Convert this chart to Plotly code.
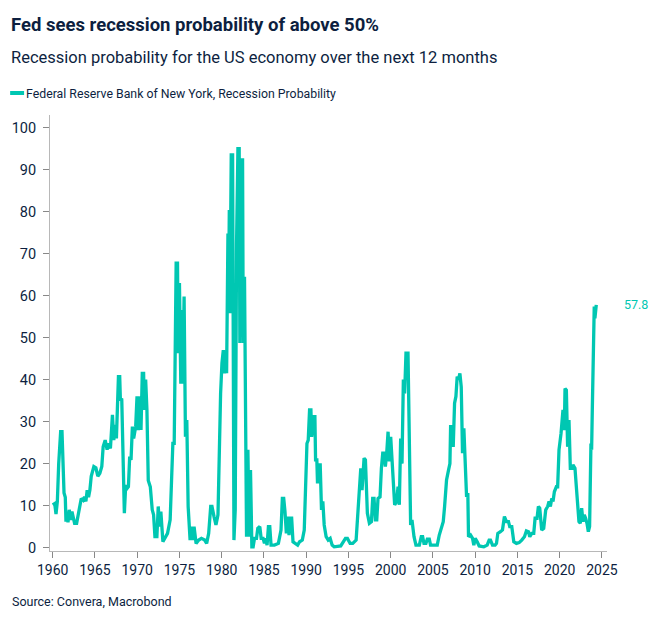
import plotly.graph_objects as go

# ---- Data ----
years = [
    1960.00, 1960.24, 1960.39, 1960.55, 1960.71, 1960.94, 1961.10, 1961.34, 1961.49, 1961.57,
    1961.73, 1961.81, 1961.96, 1962.12, 1962.28, 1962.44, 1962.59, 1962.83, 1963.14, 1963.38,
    1963.61, 1963.77, 1963.93, 1964.08, 1964.24, 1964.40, 1964.56, 1964.87, 1965.11, 1965.34,
    1965.58, 1965.81, 1965.97, 1966.21, 1966.44, 1966.60, 1966.83, 1967.07, 1967.23, 1967.38,
    1967.54, 1967.78, 1967.93, 1968.01, 1968.17, 1968.33, 1968.48, 1968.64, 1968.80, 1968.96,
    1969.11, 1969.27, 1969.43, 1969.58, 1969.82, 1969.98, 1970.13, 1970.37, 1970.45, 1970.60,
    1970.76, 1970.84, 1971.00, 1971.15, 1971.31, 1971.55, 1971.78, 1971.94, 1972.10, 1972.33,
    1972.49, 1972.65, 1972.80, 1973.04, 1973.28, 1973.59, 1973.90, 1974.06, 1974.22, 1974.38,
    1974.45, 1974.61, 1974.77, 1974.85, 1975.00, 1975.16, 1975.24, 1975.40, 1975.55, 1975.71,
    1975.87, 1976.03, 1976.26, 1976.42, 1976.57, 1976.73, 1976.97, 1977.28, 1977.60, 1977.99,
    1978.22, 1978.46, 1978.70, 1978.85, 1979.09, 1979.32, 1979.56, 1979.72, 1979.87, 1980.03,
    1980.19, 1980.35, 1980.50, 1980.58, 1980.74, 1980.82, 1980.90, 1980.97, 1981.13, 1981.29,
    1981.45, 1981.60, 1981.76, 1981.92, 1982.07, 1982.15, 1982.31, 1982.47, 1982.55, 1982.70,
    1982.94, 1983.10, 1983.25, 1983.41, 1983.57, 1983.72, 1983.88, 1984.12, 1984.27, 1984.51,
    1984.67, 1984.90, 1985.06, 1985.22, 1985.37, 1985.53, 1985.69, 1985.84, 1986.24, 1986.71,
    1987.02, 1987.18, 1987.34, 1987.49, 1987.65, 1987.81, 1987.97, 1988.12, 1988.28, 1988.44,
    1988.75, 1988.99, 1989.22, 1989.54, 1989.77, 1989.93, 1990.09, 1990.24, 1990.40, 1990.56,
    1990.64, 1990.79, 1990.87, 1991.03, 1991.11, 1991.26, 1991.34, 1991.50, 1991.66, 1991.81,
    1991.97, 1992.13, 1992.36, 1992.60, 1992.84, 1993.07, 1993.31, 1994.09, 1994.25, 1994.65,
    1994.88, 1995.20, 1995.51, 1995.91, 1996.14, 1996.30, 1996.46, 1996.61, 1996.85, 1997.01,
    1997.24, 1997.48, 1997.72, 1997.87, 1998.03, 1998.19, 1998.35, 1998.50, 1998.74, 1998.90,
    1999.06, 1999.21, 1999.37, 1999.53, 1999.69, 1999.84, 2000.00, 2000.16, 2000.31, 2000.47,
    2000.71, 2000.87, 2001.02, 2001.18, 2001.34, 2001.50, 2001.65, 2001.81, 2002.05, 2002.20,
    2002.36, 2002.52, 2002.76, 2002.99, 2003.39, 2003.62, 2003.78, 2003.94, 2004.17, 2004.33,
    2004.57, 2004.72, 2005.12, 2005.51, 2005.75, 2005.98, 2006.22, 2006.38, 2006.61, 2006.85,
    2007.01, 2007.09, 2007.24, 2007.40, 2007.56, 2007.72, 2007.87, 2008.03, 2008.19, 2008.35,
    2008.50, 2008.66, 2008.82, 2008.98, 2009.13, 2009.21, 2009.45, 2009.69, 2009.84, 2010.00,
    2010.24, 2010.47, 2011.02, 2011.42, 2011.65, 2011.81, 2012.05, 2012.36, 2012.52, 2012.68,
    2012.99, 2013.23, 2013.46, 2013.70, 2013.94, 2014.09, 2014.33, 2014.57, 2014.88, 2015.20,
    2015.51, 2015.83, 2016.06, 2016.30, 2016.46, 2016.69, 2016.93, 2017.09, 2017.32, 2017.48,
    2017.64, 2017.87, 2018.11, 2018.35, 2018.58, 2018.74, 2018.90, 2019.06, 2019.21, 2019.37,
    2019.61, 2019.76, 2019.92, 2020.16, 2020.39, 2020.55, 2020.63, 2020.79, 2020.94, 2021.10,
    2021.26, 2021.50, 2021.57, 2021.81, 2021.97, 2022.13, 2022.28, 2022.44, 2022.60, 2022.76,
    2022.91, 2023.07, 2023.23, 2023.39, 2023.54, 2023.70, 2023.78, 2023.86, 2023.94, 2024.02,
    2024.09, 2024.17, 2024.25, 2024.33,
]

probability = [
    10.2, 10.5, 8.0, 11.0, 20.0, 27.6, 27.6, 13.0, 12.0, 6.2,
    8.6, 6.0, 9.0, 6.6, 8.6, 7.0, 5.8, 5.8, 9.0, 11.7,
    11.3, 12.1, 11.0, 13.7, 12.0, 13.7, 17.0, 19.3, 19.0, 17.0,
    17.7, 19.3, 24.0, 25.6, 23.3, 24.8, 23.6, 31.6, 25.6, 29.2,
    26.0, 40.7, 40.7, 35.2, 35.5, 24.8, 8.2, 14.9, 14.1, 14.5,
    21.7, 20.9, 28.8, 26.0, 28.8, 36.0, 28.0, 36.0, 28.0, 41.5,
    41.5, 32.8, 40.0, 32.8, 16.0, 14.5, 9.0, 7.8, 2.6, 2.6,
    9.8, 5.0, 8.6, 1.4, 2.2, 3.4, 6.6, 13.7, 24.8, 24.8,
    46.3, 67.7, 67.7, 46.3, 63.0, 39.0, 56.6, 39.0, 59.8, 26.4,
    30.4, 9.8, 1.8, 5.0, 1.8, 5.0, 1.0, 1.8, 2.2, 1.8,
    1.0, 3.4, 9.8, 9.8, 7.4, 5.4, 7.8, 23.3, 36.7, 43.9,
    47.0, 41.5, 47.0, 41.5, 74.8, 59.8, 80.4, 55.8, 93.5, 93.5,
    1.8, 9.0, 72.5, 95.0, 95.0, 48.7, 92.3, 92.3, 48.7, 64.5,
    2.6, 23.3, 2.6, 18.5, 0.2, 0.2, 2.2, 2.2, 4.6, 5.0,
    2.2, 2.2, 1.0, 2.2, 0.6, 5.0, 5.0, 0.6, 0.6, 1.0,
    4.2, 11.7, 11.7, 8.6, 3.4, 7.4, 3.0, 7.0, 7.0, 1.4,
    1.0, 0.6, 1.4, 1.8, 4.2, 13.0, 24.8, 25.6, 32.8, 32.8,
    26.4, 28.8, 31.2, 31.2, 20.9, 20.9, 15.3, 19.7, 19.7, 9.0,
    11.0, 5.4, 2.6, 1.8, 2.2, 0.6, 0.2, 0.4, 1.0, 2.2,
    2.2, 1.0, 1.0, 1.8, 9.0, 13.7, 18.9, 13.7, 21.3, 20.9,
    8.2, 5.8, 6.2, 11.7, 11.7, 6.6, 6.6, 11.7, 12.1, 18.9,
    22.5, 22.5, 19.3, 22.5, 27.6, 20.5, 26.4, 20.9, 15.3, 10.2,
    11.0, 14.5, 10.2, 26.0, 20.0, 40.0, 36.7, 46.3, 46.3, 24.8,
    5.4, 6.6, 2.6, 0.6, 0.6, 2.6, 2.6, 1.0, 1.0, 2.0,
    2.0, 0.6, 0.6, 0.6, 3.0, 4.6, 6.2, 9.8, 16.1, 18.5,
    20.0, 28.8, 28.8, 24.0, 34.4, 36.0, 40.7, 40.0, 41.5, 38.3,
    22.5, 28.4, 18.9, 12.1, 13.0, 2.6, 3.0, 2.2, 0.6, 2.2,
    1.4, 0.4, 0.2, 0.6, 1.8, 1.8, 0.6, 0.6, 1.0, 3.4,
    3.8, 4.2, 7.4, 6.2, 6.2, 5.0, 5.0, 1.4, 1.0, 1.2,
    1.8, 2.6, 4.0, 3.8, 2.6, 3.4, 3.4, 7.0, 7.0, 9.8,
    9.4, 4.2, 4.6, 9.0, 9.8, 11.0, 9.8, 11.7, 11.0, 13.3,
    14.5, 14.5, 23.3, 27.2, 32.8, 28.0, 37.9, 37.5, 24.0, 30.4,
    18.9, 18.9, 19.7, 18.9, 14.5, 10.5, 6.2, 5.8, 9.4, 6.2,
    7.8, 7.0, 5.8, 3.8, 5.0, 24.8, 23.3, 32.8, 44.7, 56.6,
    57.4, 54.6, 57.4, 57.8,
]

x_ticks = [1960, 1965, 1970, 1975, 1980, 1985, 1990, 1995, 2000, 2005, 2010, 2015, 2020, 2025]
y_ticks = [0, 10, 20, 30, 40, 50, 60, 70, 80, 90, 100]

series_name = "Federal Reserve Bank of New York, Recession Probability"
title_text = "Fed sees recession probability of above 50%"
subtitle_text = "Recession probability for the US economy over the next 12 months"
source_text = "Source: Convera, Macrobond"

# ---- Style ----
W, H = 667, 623
ML, MR, MT, MB = 48, 60, 115, 72
PW, PH = W - ML - MR, H - MT - MB
TEAL = "#00C7B2"
NAVY = "#0d1f3f"
AXIS = "#b8b8b8"
FONT = "Roboto, sans-serif"


def px_x(px):
    return (px - ML) / PW


def px_y(py):
    return (H - MB - py) / PH


fig = go.Figure()
fig.add_trace(go.Scatter(
    x=years, y=probability, mode="lines", name=series_name,
    line=dict(color=TEAL, width=3.3), showlegend=False,
))

annotations = [
    dict(text="<b>" + title_text + "</b>", x=px_x(7), y=px_y(25), xref="paper", yref="paper",
         xanchor="left", yanchor="middle", showarrow=False,
         font=dict(family=FONT, size=18.5, color=NAVY)),
    dict(text=subtitle_text, x=px_x(7), y=px_y(57), xref="paper", yref="paper",
         xanchor="left", yanchor="middle", showarrow=False,
         font=dict(family=FONT, size=16.5, color=NAVY)),
    dict(text=series_name, x=px_x(22), y=px_y(94), xref="paper", yref="paper",
         xanchor="left", yanchor="middle", showarrow=False,
         font=dict(family=FONT, size=12.3, color=NAVY)),
    dict(text=source_text, x=px_x(8), y=px_y(601), xref="paper", yref="paper",
         xanchor="left", yanchor="middle", showarrow=False,
         font=dict(family=FONT, size=12.5, color=NAVY)),
    dict(text=f"{probability[-1]:.1f}", x=years[-1], y=probability[-1], xref="x", yref="y",
         xanchor="left", yanchor="middle", xshift=26, showarrow=False,
         font=dict(family=FONT, size=12.5, color=TEAL)),
]

shapes = [
    dict(type="line", xref="paper", yref="paper", x0=px_x(8), x1=px_x(22),
         y0=px_y(93), y1=px_y(93), line=dict(color=TEAL, width=4)),
]

fig.update_layout(
    width=W, height=H,
    margin=dict(l=ML, r=MR, t=MT, b=MB, pad=0),
    paper_bgcolor="white", plot_bgcolor="white",
    annotations=annotations, shapes=shapes,
    font=dict(family=FONT, color=NAVY),
    xaxis=dict(
        range=[1959.68, 2025.6], tickmode="array", tickvals=x_ticks,
        ticktext=[str(t) for t in x_ticks],
        showgrid=False, zeroline=False, showline=True, linecolor=AXIS, linewidth=1,
        ticks="outside", ticklen=6, tickcolor="#888888", tickwidth=1,
        tickfont=dict(family=FONT, size=14, color=NAVY),
    ),
    yaxis=dict(
        range=[-0.8, 103], tickmode="array", tickvals=y_ticks,
        showgrid=False, zeroline=False, showline=True, linecolor=AXIS, linewidth=1,
        ticks="outside", ticklen=6, tickcolor="#888888", tickwidth=1,
        ticklabelstandoff=4,
        tickfont=dict(family=FONT, size=14.5, color=NAVY),
    ),
)

fig.write_html("out.html")
